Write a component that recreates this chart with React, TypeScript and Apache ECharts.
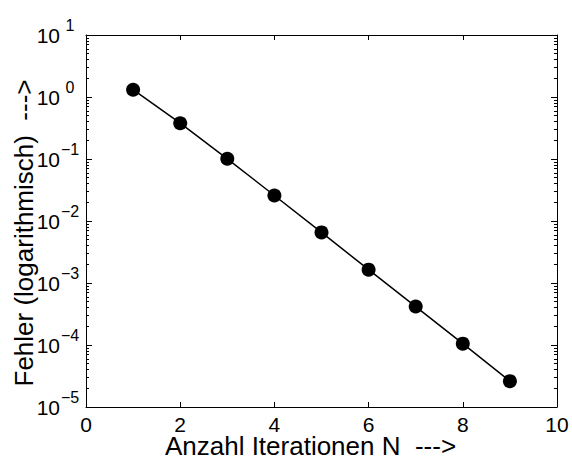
import React, { useEffect, useRef } from "react";
import * as echarts from "echarts";

// ---- data ----
const iterations = [1, 2, 3, 4, 5, 6, 7, 8, 9];
const errors = [1.31, 0.378, 0.1007, 0.0258, 0.00655, 0.00164, 0.000417, 0.000105, 0.0000261];
const xTickValues = [0, 2, 4, 6, 8, 10];
const yDecadeExponents = [-5, -4, -3, -2, -1, 0, 1];
const minorMultipliers = [2, 3, 4, 5, 6, 7, 8, 9];
const xAxisTitle = "Anzahl Iterationen N  --->";
const yAxisTitle = "Fehler (logarithmisch)  --->";

const FONT = "'Liberation Sans', Arial, Helvetica, sans-serif";
const BLACK = "#000";

const majorVals = yDecadeExponents.map((e) => Number(`1e${e}`));
const minorVals: number[] = [];
yDecadeExponents.slice(0, -1).forEach((e) => {
  minorMultipliers.forEach((m) => minorVals.push(Number(`${m}e${e}`)));
});

function supText(value: number) {
  const e = Math.round(Math.log10(value));
  const s = e < 0 ? "\u2212" + -e : String(e);
  return `{base|10}{sup|${s}}`;
}

export default function App() {
  const ref = useRef<HTMLDivElement>(null);
  useEffect(() => {
    if (!ref.current) return;
    const chart = echarts.init(ref.current, undefined, { renderer: "svg" });
    const yMin = majorVals[0];
    const yMax = majorVals[majorVals.length - 1];
    const logCommon = {
      type: "log" as const,
      logBase: 10,
      min: yMin,
      max: yMax,
      splitLine: { show: false },
      minorTick: { show: false },
      minorSplitLine: { show: false },
    };
    const xCommon = {
      type: "value" as const,
      min: xTickValues[0],
      max: xTickValues[xTickValues.length - 1],
      interval: 2,
      splitLine: { show: false },
      axisLine: { show: true, lineStyle: { color: BLACK, width: 1 } },
      axisTick: { show: true, inside: true, length: 5, lineStyle: { color: BLACK, width: 1 } },
    };
    chart.setOption({
      animation: false,
      backgroundColor: "#fff",
      grid: { left: 86, right: 15, top: 35, bottom: 50, containLabel: false, outerBoundsMode: "none" },
      xAxis: [
        {
          ...xCommon,
          position: "bottom",
          axisLabel: { show: true, color: BLACK, fontSize: 21, lineHeight: 16, fontFamily: FONT, margin: 9 },
          name: xAxisTitle,
          nameLocation: "middle",
          nameGap: 29,
          nameMoveOverlap: false,
          nameTextStyle: { color: BLACK, fontSize: 26, lineHeight: 20, fontFamily: FONT, padding: [0, 22, 0, 0] },
        },
        {
          ...xCommon,
          position: "top",
          axisLabel: { show: false },
        },
      ],
      yAxis: [
        {
          ...logCommon,
          position: "left",
          axisLine: { show: true, lineStyle: { color: BLACK, width: 1 } },
          axisTick: { show: true, inside: true, length: 6, customValues: majorVals, lineStyle: { color: BLACK, width: 1 } },
          axisLabel: {
            show: true,
            customValues: majorVals,
            margin: 6,
            padding: [0, 0, 7, 0],
            formatter: (v: number) => supText(v),
            rich: {
              base: { fontSize: 21, fontFamily: FONT, color: BLACK, verticalAlign: "bottom", lineHeight: 28 },
              sup: { fontSize: 16, fontFamily: FONT, color: BLACK, verticalAlign: "top", lineHeight: 28, width: 20, align: "left" },
            },
          },
          name: yAxisTitle,
          nameLocation: "middle",
          nameGap: 49,
          nameMoveOverlap: false,
          nameTextStyle: { color: BLACK, fontSize: 26, fontFamily: FONT, padding: [0, 24, 0, 0] },
        },
        {
          ...logCommon,
          position: "left",
          axisLine: { show: false },
          axisTick: { show: true, inside: true, length: 3, customValues: minorVals, lineStyle: { color: BLACK, width: 1 } },
          axisLabel: { show: false },
        },
        {
          ...logCommon,
          position: "right",
          axisLine: { show: true, lineStyle: { color: BLACK, width: 1 } },
          axisTick: { show: true, inside: true, length: 6, customValues: majorVals, lineStyle: { color: BLACK, width: 1 } },
          axisLabel: { show: false },
        },
        {
          ...logCommon,
          position: "right",
          axisLine: { show: false },
          axisTick: { show: true, inside: true, length: 3, customValues: minorVals, lineStyle: { color: BLACK, width: 1 } },
          axisLabel: { show: false },
        },
      ],
      series: [
        {
          type: "line",
          xAxisIndex: 0,
          yAxisIndex: 0,
          data: iterations.map((n, i) => [n, errors[i]]),
          symbol: "circle",
          symbolSize: 14,
          showSymbol: true,
          itemStyle: { color: BLACK },
          lineStyle: { color: BLACK, width: 1.5 },
          z: 5,
        },
      ],
    });
    return () => chart.dispose();
  }, []);
  return (
    <div
      ref={ref}
      style={{ position: "fixed", left: 0, top: 0, width: 572, height: 457, background: "#fff" }}
    />
  );
}
